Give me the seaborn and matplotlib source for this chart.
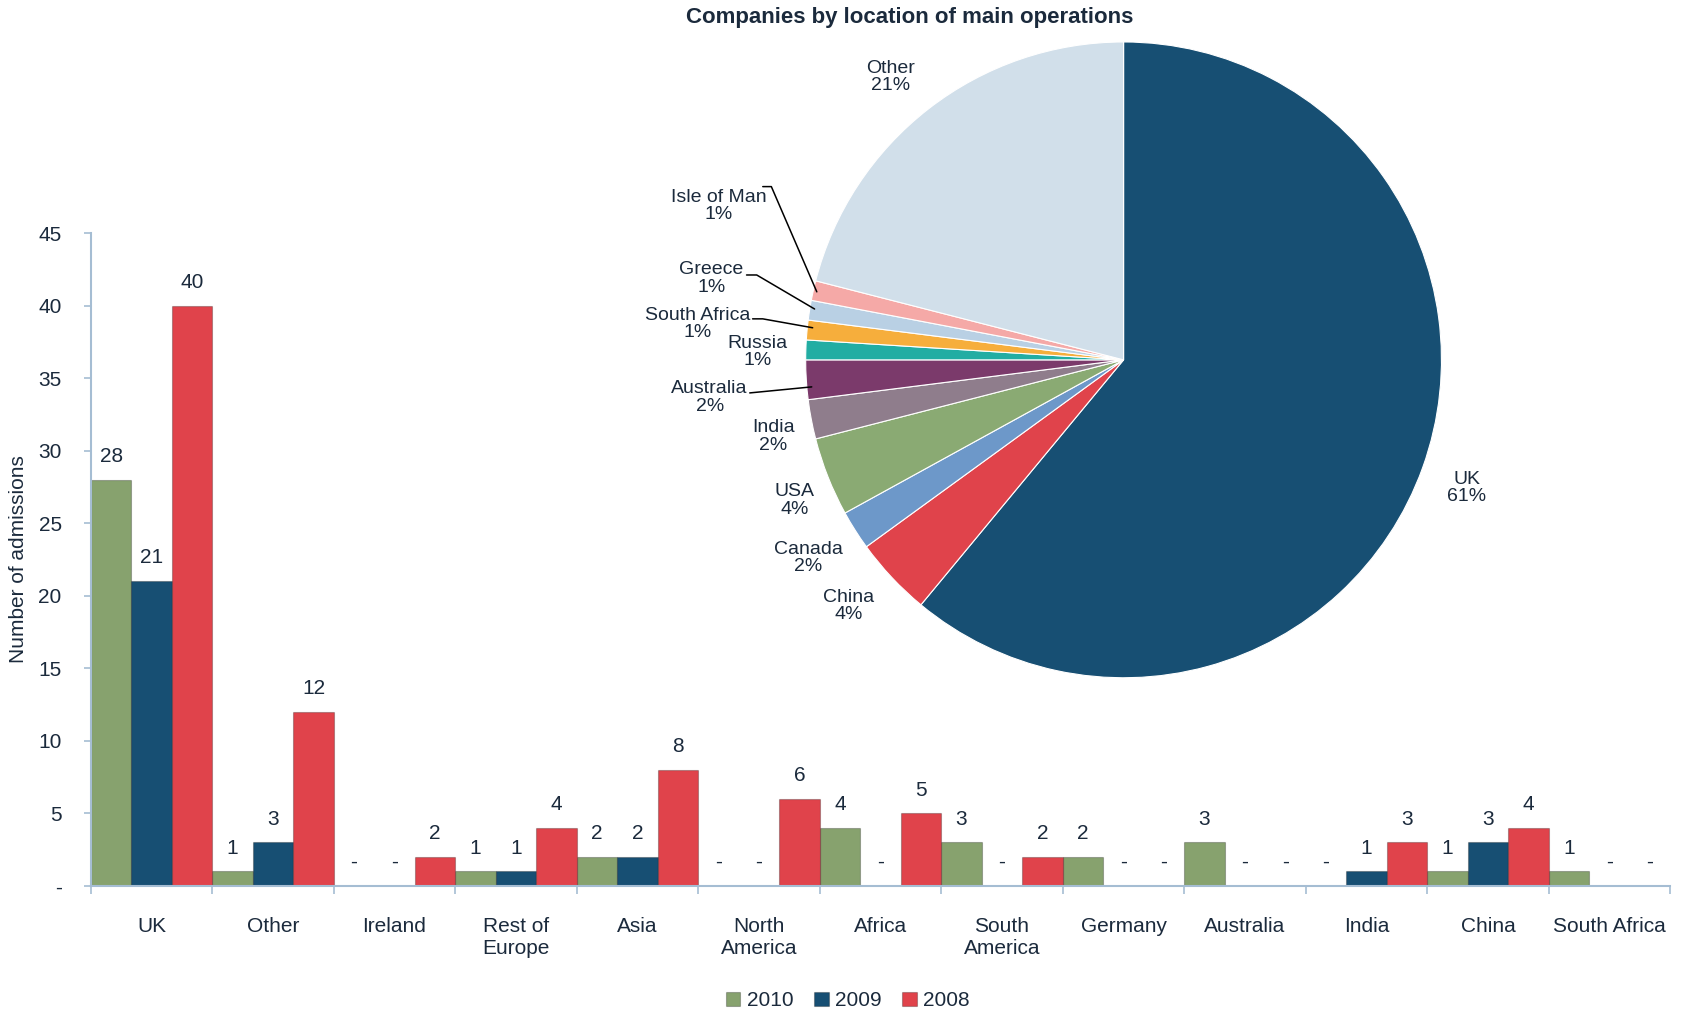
import matplotlib.pyplot as plt
import numpy as np
import pandas as pd
import seaborn as sns

# Bar chart data: admissions by country of main operations
countries = ['UK', 'Other', 'Ireland', 'Rest of\nEurope', 'Asia', 'North\nAmerica',
             'Africa', 'South\nAmerica', 'Germany', 'Australia', 'India', 'China',
             'South Africa']
years = ['2010', '2009', '2008']
adm_2010 = [28, 1, 0, 1, 2, 0, 4, 3, 2, 3, 0, 1, 1]
adm_2009 = [21, 3, 0, 1, 2, 0, 0, 0, 0, 0, 1, 3, 0]
adm_2008 = [40, 12, 2, 4, 8, 6, 5, 2, 0, 0, 3, 4, 0]

# Pie chart data: companies by location (%)
pie_names = ['UK', 'China', 'Canada', 'USA', 'India', 'Australia', 'Russia',
             'South Africa', 'Greece', 'Isle of Man', 'Other']
pie_share = [61, 4, 2, 4, 2, 2, 1, 1, 1, 1, 21]

bar_colors = ['#87A26E', '#174F73', '#E0434B']
pie_colors = ['#174F73', '#E0434B', '#6D98C9', '#8AAA73', '#8F7D8C', '#7B3A6B',
              '#22ADA3', '#F6AE3C', '#B9D0E4', '#F5A9A7', '#D1DFEA']
text_col = '#1B2A3C'
axis_col = '#A5BDD3'

sns.set_style('white')
plt.rcParams['font.family'] = ['Liberation Sans', 'DejaVu Sans']

df = pd.DataFrame({
    'country': countries * 3,
    'year': [y for y in years for _ in countries],
    'n': adm_2010 + adm_2009 + adm_2008,
})

fig = plt.figure(figsize=(16.82, 10.10), dpi=100)
ax = fig.add_axes([0.054, 0.1228, 0.939, 0.6465])

sns.barplot(data=df, x='country', y='n', hue='year', order=countries,
            hue_order=years, palette=bar_colors, saturation=1, width=1.0, gap=0,
            edgecolor=(0, 0, 0, 0.25), linewidth=0.8, legend=True, ax=ax)

for cont in ax.containers:
    vals = [b.get_height() for b in cont]
    ax.bar_label(cont, labels=['-' if v == 0 else f'{v:.0f}' for v in vals],
                 padding=10, fontsize=15, color=text_col)

ax.set_xlim(-0.5, len(countries) - 0.5)
ax.set_ylim(0, 45)
ax.set_yticks(range(0, 46, 5))
ax.set_yticklabels(['-'] + [str(v) for v in range(5, 46, 5)])
ax.set_xlabel('')
ax.set_ylabel('Number of admissions', fontsize=15, color=text_col)
ax.yaxis.set_label_coords(-0.040, 0.5)

for s in ['top', 'right']:
    ax.spines[s].set_visible(False)
for s in ['left', 'bottom']:
    ax.spines[s].set_color(axis_col)
    ax.spines[s].set_linewidth(1.5)

ax.tick_params(axis='y', direction='out', length=5, width=1.2, color=axis_col,
               labelsize=15, labelcolor=text_col, pad=16, left=True)
ax.tick_params(axis='x', which='major', length=0, labelsize=15,
               labelcolor=text_col, pad=22)
ax.set_xticks(np.arange(-0.5, len(countries), 1.0), minor=True)
ax.tick_params(axis='x', which='minor', direction='out', length=6, width=1.2,
               color=axis_col, bottom=True)

handles, labels = ax.get_legend_handles_labels()
ax.get_legend().remove()
fig.legend(handles, labels, loc='center', bbox_to_anchor=(0.504, 0.009), ncol=3,
           frameon=False, fontsize=15, handlelength=0.7, handleheight=0.7,
           handletextpad=0.3, columnspacing=1.0, labelcolor=text_col)

# Pie chart overlay
pax = fig.add_axes([0.479, 0.3287, 0.378, 0.630])
pax.pie(pie_share, colors=pie_colors, startangle=90, counterclock=False,
        wedgeprops=dict(edgecolor='white', linewidth=0.8))
pax.set_xlim(-1, 1)
pax.set_ylim(-1, 1)
pax.set_aspect('equal')
pax.axis('off')

# label positions in pie data units
label_pos = {
    'UK': (1.079, -0.403), 'China': (-0.865, -0.774), 'Canada': (-0.991, -0.623),
    'USA': (-1.035, -0.443), 'India': (-1.101, -0.242), 'Australia': (-1.302, -0.119),
    'Russia': (-1.151, 0.025), 'South Africa': (-1.340, 0.113),
    'Greece': (-1.296, 0.255), 'Isle of Man': (-1.274, 0.484), 'Other': (-0.733, 0.890),
}
for name, share in zip(pie_names, pie_share):
    x, y = label_pos[name]
    pax.text(x, y, f'{name}\n{share}%', ha='center', va='center', fontsize=14,
             color=text_col, linespacing=1.05)

leaders = [
    [(-1.135, 0.545), (-1.108, 0.545), (-0.965, 0.214)],
    [(-1.186, 0.267), (-1.154, 0.267), (-0.972, 0.160)],
    [(-1.167, 0.129), (-1.135, 0.129), (-0.978, 0.101)],
    [(-1.176, -0.104), (-0.981, -0.085)],
]
for pts in leaders:
    xs, ys = zip(*pts)
    pax.plot(xs, ys, color='black', linewidth=1.1, clip_on=False)

fig.text(0.541, 0.983, 'Companies by location of main operations', ha='center',
         va='center', fontsize=16, fontweight='bold', color=text_col)

plt.savefig('out.png', dpi=100)
plt.close()
